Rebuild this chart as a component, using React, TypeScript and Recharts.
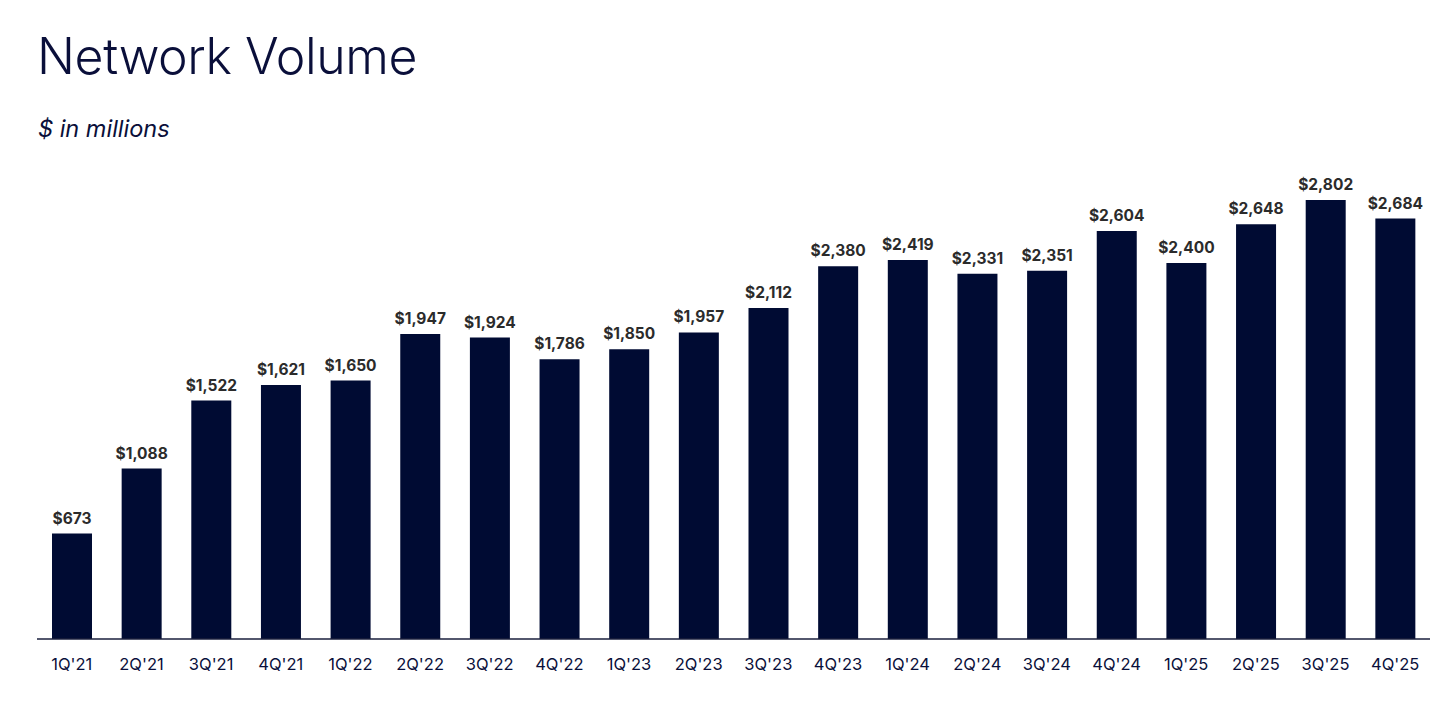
import { BarChart, Bar, XAxis, YAxis, LabelList } from 'recharts'

const quarters = [
  "1Q'21", "2Q'21", "3Q'21", "4Q'21",
  "1Q'22", "2Q'22", "3Q'22", "4Q'22",
  "1Q'23", "2Q'23", "3Q'23", "4Q'23",
  "1Q'24", "2Q'24", "3Q'24", "4Q'24",
  "1Q'25", "2Q'25", "3Q'25", "4Q'25",
]
const volume = [
  673, 1088, 1522, 1621,
  1650, 1947, 1924, 1786,
  1850, 1957, 2112, 2380,
  2419, 2331, 2351, 2604,
  2400, 2648, 2802, 2684,
]

const NAVY = '#000b33'

export default function App() {
  const data = quarters.map((q, i) => ({ q, v: volume[i] }))

  return (
    <div style={{ position: 'absolute', left: 0, top: 0, width: 1456, height: 714, background: '#fff', fontFamily: 'Inter, sans-serif' }}>
      <div style={{ position: 'absolute', left: 37, top: 31, fontSize: 50, fontWeight: 300, color: '#0a0f3a', letterSpacing: -0.4, lineHeight: 1 }}>
        Network Volume
      </div>
      <div style={{ position: 'absolute', left: 38, top: 117, fontSize: 23.5, fontStyle: 'italic', color: '#0a0f3a', lineHeight: 1 }}>
        $ in millions
      </div>
      <div style={{ position: 'absolute', left: 0, top: 0 }}>
        <BarChart width={1456} height={714} data={data} margin={{ top: 169, right: 26, left: 37, bottom: 45 }} barCategoryGap={15}>
          <XAxis
            dataKey="q"
            height={30}
            tickLine={false}
            axisLine={{ stroke: '#1a1f3d', strokeWidth: 1.5 }}
            tickMargin={13}
            tick={{ fontSize: 16.5, fill: '#0a0f3a' }}
            interval={0}
          />
          <YAxis hide domain={[0, 3000]} width={0} />
          <Bar dataKey="v" fill={NAVY} isAnimationActive={false}>
            <LabelList
              dataKey="v"
              position="top"
              offset={10}
              formatter={(v: any) => `$${Number(v).toLocaleString('en-US')}`}
              style={{ fontSize: 15.5, fontWeight: 700, fill: '#2b2b2b' }}
            />
          </Bar>
        </BarChart>
      </div>
    </div>
  )
}
